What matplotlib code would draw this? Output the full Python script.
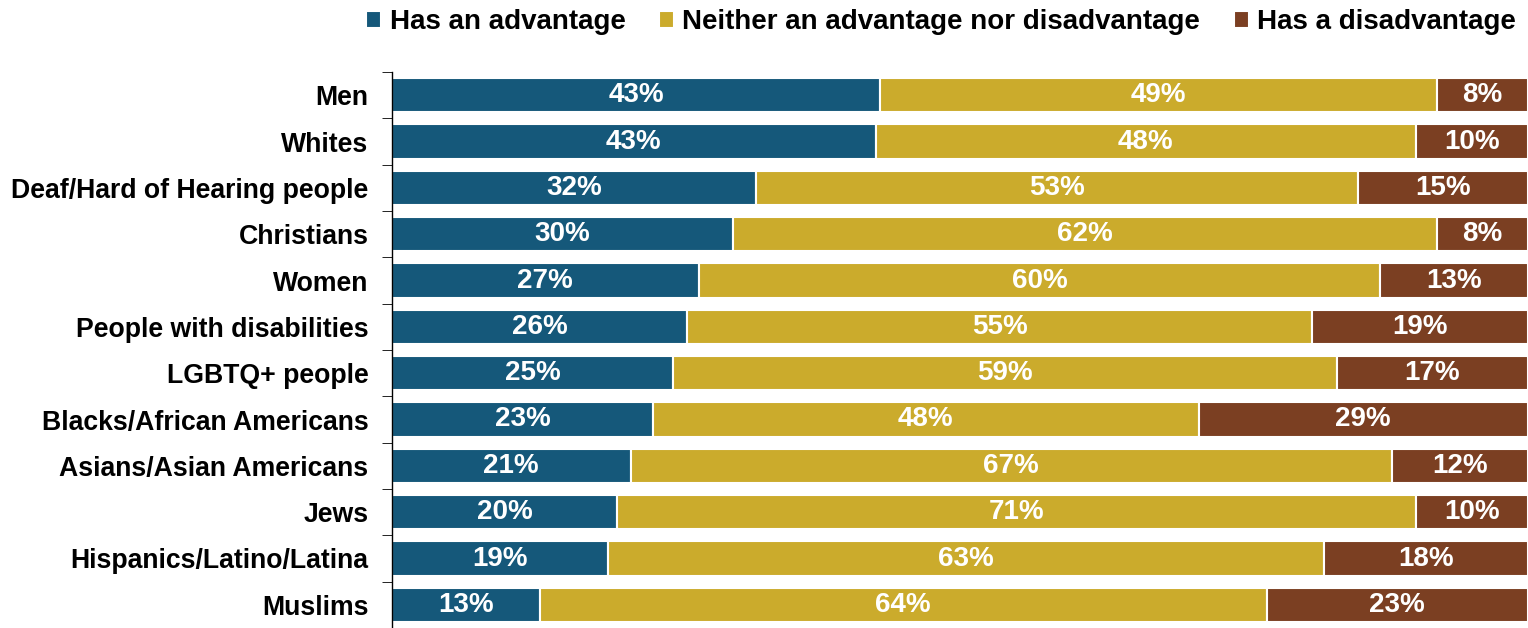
import numpy as np
import matplotlib.pyplot as plt

plt.rcParams['font.family'] = ['Liberation Sans', 'DejaVu Sans']
plt.rcParams['font.weight'] = 'bold'

# --- Data ---
groups = ["Men", "Whites", "Deaf/Hard of Hearing people", "Christians", "Women",
          "People with disabilities", "LGBTQ+ people", "Blacks/African Americans",
          "Asians/Asian Americans", "Jews", "Hispanics/Latino/Latina", "Muslims"]
advantage = [43, 43, 32, 30, 27, 26, 25, 23, 21, 20, 19, 13]
neither = [49, 48, 53, 62, 60, 55, 59, 48, 67, 71, 63, 64]
disadvantage = [8, 10, 15, 8, 13, 19, 17, 29, 12, 10, 18, 23]
series_names = ["Has an advantage", "Neither an advantage nor disadvantage", "Has a disadvantage"]
colors = ['#15587A', '#CBAB2C', '#7B3F22']

vals = np.array([advantage, neither, disadvantage], dtype=float)
shares = vals / vals.sum(axis=0) * 100  # rows rounded, so scale each to 100%

fig = plt.figure(figsize=(15.28, 6.28), dpi=100)
ax = fig.add_axes([392 / 1528, 0, 1 - 392 / 1528, (628 - 72) / 628])

y = np.arange(len(groups))
left = np.zeros(len(groups))
for i in range(3):
    bars = ax.barh(y, shares[i], left=left, height=0.74, color=colors[i],
                   edgecolor='white', linewidth=1.5, label=series_names[i])
    ax.bar_label(bars, labels=[f"{v:.0f}%" for v in vals[i]], label_type='center',
                 color='white', fontsize=20, fontweight='bold')
    left += shares[i]

ax.set_xlim(0, 100)
ax.set_ylim(len(groups) - 0.5, -0.5)
ax.set_yticks(y)
ax.set_yticklabels(groups, fontsize=19.2, fontweight='bold')
ax.set_yticks(np.arange(len(groups) + 1) - 0.5, minor=True)
ax.tick_params(axis='y', which='major', length=0, pad=17)
ax.tick_params(axis='y', which='minor', length=7, direction='out', color='black')
ax.set_xticks([])
for s in ['top', 'right', 'bottom']:
    ax.spines[s].set_visible(False)
ax.spines['left'].set_color('black')
ax.spines['left'].set_linewidth(1)

fig.legend(loc='center', bbox_to_anchor=(941 / 1528, 1 - 22 / 628), ncol=3,
           frameon=False, handlelength=0.55, handleheight=0.55,
           handletextpad=0.3, columnspacing=1.2, prop={'weight': 'bold', 'size': 20})

fig.savefig('out.png', dpi=100)
